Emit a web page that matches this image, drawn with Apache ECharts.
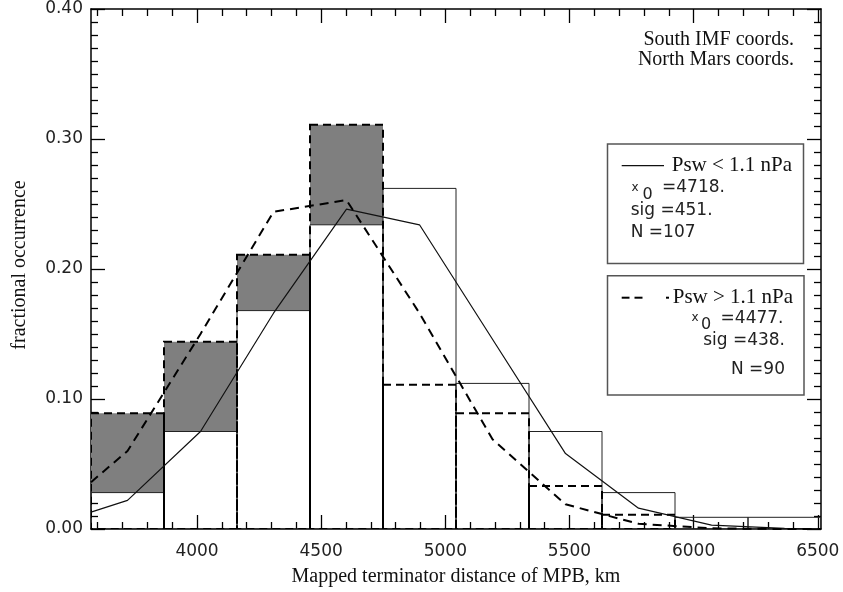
<!DOCTYPE html>
<html>
<head>
<meta charset="utf-8">
<script src="https://cdn.jsdelivr.net/npm/echarts@6/dist/echarts.min.js"></script>
<style>
  html, body { margin: 0; padding: 0; background: #fff; }
  #chart { width: 843px; height: 592px; }
</style>
</head>
<body>
<div id="chart"></div>
<script>
// Histogram bins of the mapped MPB terminator distance (km)
const binStarts = [3573, 3867, 4161, 4455, 4749, 5043, 5337, 5631, 5925, 6219];
const binWidth = 294;

// Fractional occurrence per bin, low and high solar-wind pressure subsets
const fracLowPsw  = [0.028, 0.075, 0.168, 0.234, 0.262, 0.112, 0.075, 0.028, 0.009, 0.009];
const fracHighPsw = [0.089, 0.144, 0.211, 0.311, 0.111, 0.089, 0.033, 0.011, 0.000, 0.000];

// Gaussian fit curves, sampled at the bin centres (plus the axis ends)
const fitX       = [3573, 3720, 4014, 4308, 4602, 4896, 5190, 5484, 5778, 6072, 6366, 6513];
const fitLowPsw  = [0.013, 0.022, 0.075, 0.166, 0.246, 0.234, 0.146, 0.058, 0.016, 0.003, 0.0005, 0.0];
const fitHighPsw = [0.036, 0.060, 0.150, 0.244, 0.253, 0.166, 0.069, 0.019, 0.004, 0.0005, 0.0, 0.0];

// Axis ticks and labels
const xMin = 3573, xMax = 6513;
const xMajorTicks = [4000, 4500, 5000, 5500, 6000, 6500];
const xTickLabels = ['4000', '4500', '5000', '5500', '6000', '6500'];
const xMinorTicks = [];
for (let v = 3600; v <= 6500; v += 100) if (xMajorTicks.indexOf(v) < 0) xMinorTicks.push(v);
const yTickLabels = ['0.00', '0.10', '0.20', '0.30', '0.40'];

const SANS = '"DejaVu Sans", sans-serif';
const SERIF = '"Liberation Serif", "Times New Roman", serif';

const binData = binStarts.map((s, i) => [s, s + binWidth, fracLowPsw[i], fracHighPsw[i]]);

function rectBetween(api, y0, y1) {
  const p0 = api.coord([api.value(0), y0]);
  const p1 = api.coord([api.value(1), y1]);
  return { x: p0[0], y: p1[1], width: p1[0] - p0[0], height: p0[1] - p1[1] };
}

function xAxisDef(position, ticks, len, showLine, showLabel) {
  return {
    type: 'value', position: position, min: xMin, max: xMax,
    axisLine: { show: showLine, onZero: false, lineStyle: { color: '#000', width: 1.5 } },
    splitLine: { show: false },
    axisTick: { inside: true, length: len, customValues: ticks, lineStyle: { color: '#000', width: 1.3 } },
    axisLabel: showLabel ? {
      customValues: xMajorTicks,
      formatter: v => xTickLabels[xMajorTicks.indexOf(v)],
      color: '#222', fontFamily: SANS, fontSize: 17, margin: 14
    } : { show: false }
  };
}

function yAxisDef(position, showLabel) {
  return {
    type: 'value', position: position, min: 0, max: 0.4, interval: 0.1,
    axisLine: { show: true, onZero: false, lineStyle: { color: '#000', width: 1.5 } },
    splitLine: { show: false },
    axisTick: { inside: true, length: 14, lineStyle: { color: '#000', width: 1.3 } },
    minorTick: { show: true, splitNumber: 10, length: 7, lineStyle: { color: '#000', width: 1.3 } },
    axisLabel: showLabel ? {
      formatter: v => yTickLabels[Math.round(v * 10)],
      color: '#222', fontFamily: SANS, fontSize: 17, margin: 8
    } : { show: false }
  };
}

const option = {
  animation: false,
  backgroundColor: '#fff',
  grid: { left: 91, right: 22, top: 9, bottom: 63 },
  xAxis: [
    xAxisDef('bottom', xMajorTicks, 14, true, true),
    xAxisDef('bottom', xMinorTicks, 7, false, false),
    xAxisDef('top', xMajorTicks, 14, true, false),
    xAxisDef('top', xMinorTicks, 7, false, false)
  ],
  yAxis: [yAxisDef('left', true), yAxisDef('right', false)],
  series: [
    { // shaded excess of the high-pressure histogram over the low-pressure one
      type: 'custom', xAxisIndex: 0, yAxisIndex: 0, data: binData, clip: true,
      encode: { x: [0, 1], y: [2, 3] },
      renderItem: (params, api) => {
        const lo = api.value(2), hi = api.value(3);
        if (hi <= lo) return null;
        return { type: 'rect', shape: rectBetween(api, lo, hi), style: { fill: '#7f7f7f' } };
      }
    },
    { // Psw < 1.1 nPa histogram outline
      type: 'custom', xAxisIndex: 0, yAxisIndex: 0, data: binData, clip: true,
      encode: { x: [0, 1], y: [2, 3] },
      renderItem: (params, api) => {
        const lo = api.value(2);
        if (lo <= 0) return null;
        return { type: 'rect', shape: rectBetween(api, 0, lo),
                 style: { fill: 'none', stroke: '#222', lineWidth: 1 } };
      }
    },
    { // Psw > 1.1 nPa histogram outline
      type: 'custom', xAxisIndex: 0, yAxisIndex: 0, data: binData, clip: true,
      encode: { x: [0, 1], y: [2, 3] },
      renderItem: (params, api) => {
        const hi = api.value(3);
        if (hi <= 0) return null;
        return { type: 'rect', shape: rectBetween(api, 0, hi),
                 style: { fill: 'none', stroke: '#000', lineWidth: 2, lineDash: [8, 5] } };
      }
    },
    {
      name: 'fit Psw < 1.1 nPa', type: 'line', xAxisIndex: 0, yAxisIndex: 0,
      data: fitX.map((x, i) => [x, fitLowPsw[i]]),
      showSymbol: false, clip: true,
      lineStyle: { color: '#111', width: 1.2 }
    },
    {
      name: 'fit Psw > 1.1 nPa', type: 'line', xAxisIndex: 0, yAxisIndex: 0,
      data: fitX.map((x, i) => [x, fitHighPsw[i]]),
      showSymbol: false, clip: true,
      lineStyle: { color: '#000', width: 2, type: [9, 6] }
    }
  ],
  graphic: [
    // axis titles
    { type: 'text', x: 456, y: 577,
      style: { text: 'Mapped terminator distance of MPB, km', font: '20px ' + SERIF, fill: '#111',
               align: 'center', verticalAlign: 'middle' } },
    { type: 'text', x: 20, y: 265, rotation: Math.PI / 2,
      style: { text: 'fractional occurrence', font: '20px ' + SERIF, fill: '#111',
               align: 'center', verticalAlign: 'middle' } },
    // selection note
    { type: 'text', x: 794, y: 40,
      style: { text: 'South IMF coords.', font: '20px ' + SERIF, fill: '#111', align: 'right', verticalAlign: 'middle' } },
    { type: 'text', x: 794, y: 60,
      style: { text: 'North Mars coords.', font: '20px ' + SERIF, fill: '#111', align: 'right', verticalAlign: 'middle' } },

    // key box: low pressure
    { type: 'rect', shape: { x: 607.5, y: 144, width: 196, height: 119.5 },
      style: { fill: 'none', stroke: '#555', lineWidth: 1.5 } },
    { type: 'line', shape: { x1: 621.7, y1: 165.7, x2: 664, y2: 165.7 },
      style: { stroke: '#111', lineWidth: 1.2 } },
    { type: 'text', x: 671.7, y: 165,
      style: { text: 'Psw < 1.1 nPa', font: '21px ' + SERIF, fill: '#111', verticalAlign: 'middle' } },
    { type: 'text', x: 631.5, y: 188.3,
      style: { text: 'x', font: '12px ' + SANS, fill: '#222', verticalAlign: 'middle' } },
    { type: 'text', x: 642.5, y: 194.5,
      style: { text: '0', font: '16px ' + SANS, fill: '#222', verticalAlign: 'middle' } },
    { type: 'text', x: 662, y: 187.8,
      style: { text: '=4718.', font: '17px ' + SANS, fill: '#222', verticalAlign: 'middle' } },
    { type: 'text', x: 630.7, y: 211,
      style: { text: 'sig =451.', font: '17px ' + SANS, fill: '#222', verticalAlign: 'middle' } },
    { type: 'text', x: 630.7, y: 233,
      style: { text: 'N =107', font: '17px ' + SANS, fill: '#222', verticalAlign: 'middle' } },

    // key box: high pressure
    { type: 'rect', shape: { x: 607.5, y: 275.7, width: 196.5, height: 119.3 },
      style: { fill: 'none', stroke: '#555', lineWidth: 1.5 } },
    { type: 'line', shape: { x1: 621.7, y1: 297.7, x2: 629.5, y2: 297.7 }, style: { stroke: '#000', lineWidth: 2 } },
    { type: 'line', shape: { x1: 634.5, y1: 297.7, x2: 642.5, y2: 297.7 }, style: { stroke: '#000', lineWidth: 2 } },
    { type: 'line', shape: { x1: 666, y1: 297.7, x2: 669, y2: 297.7 }, style: { stroke: '#000', lineWidth: 2 } },
    { type: 'text', x: 672.7, y: 297,
      style: { text: 'Psw > 1.1 nPa', font: '21px ' + SERIF, fill: '#111', verticalAlign: 'middle' } },
    { type: 'text', x: 691.5, y: 318.3,
      style: { text: 'x', font: '12px ' + SANS, fill: '#222', verticalAlign: 'middle' } },
    { type: 'text', x: 701, y: 324.5,
      style: { text: '0', font: '16px ' + SANS, fill: '#222', verticalAlign: 'middle' } },
    { type: 'text', x: 783.5, y: 318.5,
      style: { text: '=4477.', font: '17px ' + SANS, fill: '#222', align: 'right', verticalAlign: 'middle' } },
    { type: 'text', x: 785, y: 340.5,
      style: { text: 'sig =438.', font: '17px ' + SANS, fill: '#222', align: 'right', verticalAlign: 'middle' } },
    { type: 'text', x: 785, y: 369.5,
      style: { text: 'N =90', font: '17px ' + SANS, fill: '#222', align: 'right', verticalAlign: 'middle' } }
  ]
};

const chart = echarts.init(document.getElementById('chart'), null, { renderer: 'canvas' });
chart.setOption(option);
</script>
</body>
</html>
